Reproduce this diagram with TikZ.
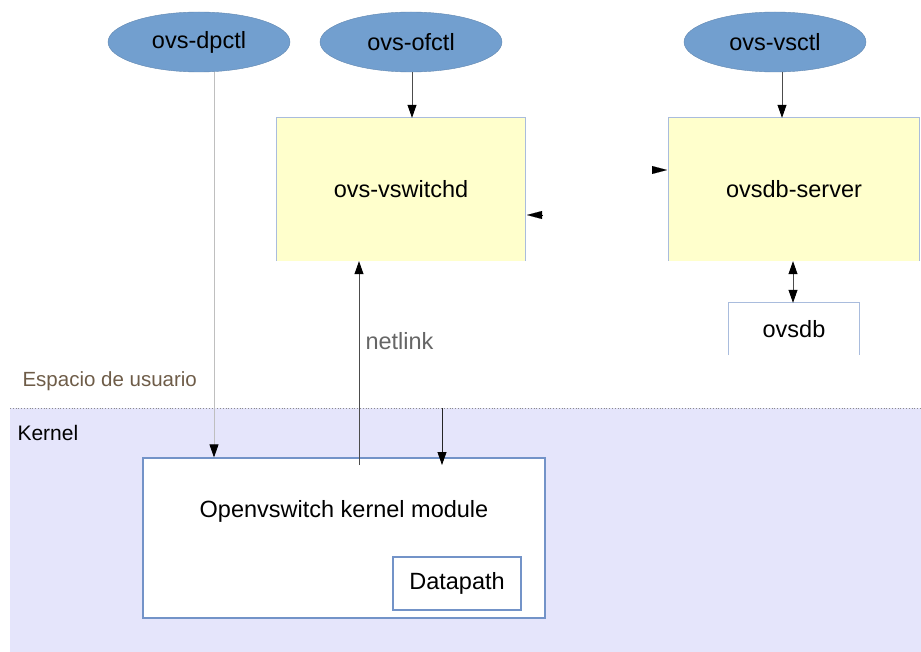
\documentclass[tikz,border=0pt]{standalone}
\usepackage{fontspec}
\setmainfont{Liberation Sans}
\usetikzlibrary{arrows.meta,shapes.geometric}
\definecolor{ellblue}{HTML}{729FCF}
\definecolor{boxyellow}{HTML}{FFFFCC}
\definecolor{boxedge}{HTML}{A9BCDD}
\definecolor{kernelbg}{HTML}{E5E5FB}
\definecolor{kedge}{HTML}{7393C8}
\definecolor{userclr}{HTML}{6E5C48}
\begin{document}
\begin{tikzpicture}[x=1pt,y=-1pt,
  font=\fontsize{23.5}{28}\selectfont,
  tool/.style={ellipse, fill=ellblue, draw=ellblue!85!black, line width=0.4pt, minimum width=182, minimum height=60, inner sep=0},
  ybox/.style={rectangle, fill=boxyellow, inner sep=0},
  wbox/.style={rectangle, fill=white, draw=kedge, line width=1.2pt, inner sep=0},
  tipstyle/.style={-{Triangle[length=13pt,width=9pt,black]}},
  arr/.style={tipstyle, draw=black!70, line width=0.8pt},
  lightarr/.style={tipstyle, draw=black!25, line width=0.8pt}]
\useasboundingbox (0,0) rectangle (921,652);
% kernel region
\fill[kernelbg] (10,408) rectangle (921,652);
\draw[dotted, black!45, line width=0.8pt] (10,408) -- (921,408);
\node[anchor=west, text=userclr, font=\fontsize{20.5}{24}\selectfont] (user) at (19,381) {Espacio de usuario};
\node[anchor=west, font=\fontsize{21}{24}\selectfont] (kernel) at (14,433) {Kernel};

% tools
\node[tool] (dpctl) at (199,42) {ovs-dpctl};
\node[tool] (ofctl) at (411,42) {ovs-ofctl};
\node[tool] (vsctl) at (775,42) {ovs-vsctl};

% user-space boxes
\node[ybox, minimum width=248, minimum height=143] (vswitchd) at (401,189.5) {ovs-vswitchd};
\draw[boxedge, line width=1pt] (vswitchd.south west) -- (vswitchd.north west) -- (vswitchd.north east) -- (vswitchd.south east);
\node[ybox, minimum width=250, minimum height=143] (server) at (794,189.5) {ovsdb-server};
\draw[boxedge, line width=1pt] (server.south west) -- (server.north west) -- (server.north east) -- (server.south east);
\node[rectangle, fill=white, inner sep=0, minimum width=130, minimum height=52] (ovsdb) at (794,329) {ovsdb};
\draw[boxedge, line width=1pt] (ovsdb.south west) -- (ovsdb.north west) -- (ovsdb.north east) -- (ovsdb.south east);

% kernel boxes
\node[wbox, minimum width=402, minimum height=160] (kmod) at (344,538) {};
\node (kmodtext) at (344,511) {Openvswitch kernel module};
\node[wbox, minimum width=128, minimum height=53] (dp) at (457,583.5) {Datapath};

% connectors
\draw[lightarr] ([xshift=15pt]dpctl.south) -- ([xshift=15pt]dpctl.south |- kmod.north);
\draw[arr] ([xshift=1pt]ofctl.south) -- ([xshift=1pt]ofctl.south |- vswitchd.north);
\draw[arr] ([xshift=7pt]vsctl.south) -- ([xshift=7pt]vsctl.south |- server.north);
\coordinate (nl) at (359,465);
\draw[arr] (nl) -- (nl |- vswitchd.south);
\node[text=black!60, anchor=west] (netlink) at (362,341) {netlink};
\coordinate (kin) at (442,408);
\coordinate (kintip) at (442,465);
\draw[arr, draw=black!85] (kin) -- (kintip);
\draw[{Triangle[length=13pt,width=9pt,black]}-{Triangle[length=13pt,width=9pt,black]}, draw=black!70, line width=0.8pt] ([xshift=-1pt]server.south) -- ([xshift=-1pt]ovsdb.north);

% lone arrowheads
\coordinate (h1s) at (542,215);
\coordinate (h1e) at (527,215);
\draw[-{Triangle[length=15pt,width=8pt,black]}, line width=0.1pt] (h1s) -- (h1e);
\coordinate (h2s) at (652,170);
\coordinate (h2e) at (667,170);
\draw[-{Triangle[length=15pt,width=8pt,black]}, line width=0.1pt] (h2s) -- (h2e);
\end{tikzpicture}
\end{document}
